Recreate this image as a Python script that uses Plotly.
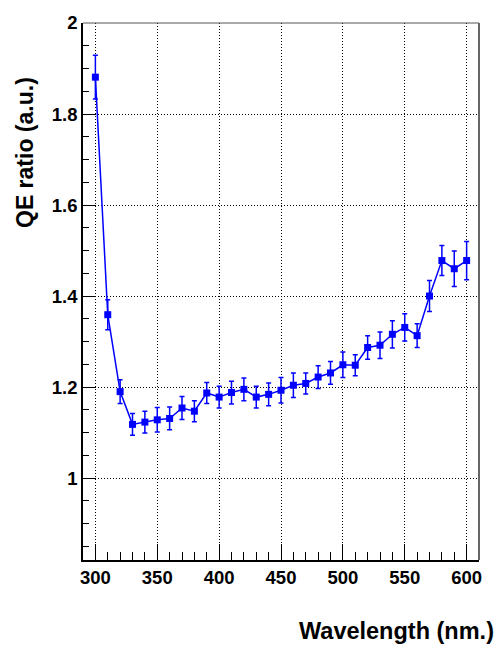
import plotly.graph_objects as go

wavelength = [300, 310, 320, 330, 340, 350, 360, 370, 380, 390, 400, 410, 420, 430, 440,
              450, 460, 470, 480, 490, 500, 510, 520, 530, 540, 550, 560, 570, 580, 590, 600]
qe_ratio = [1.881, 1.359, 1.190, 1.118, 1.123, 1.128, 1.131, 1.154, 1.147, 1.187, 1.178,
            1.188, 1.195, 1.178, 1.184, 1.193, 1.204, 1.208, 1.222, 1.231, 1.249, 1.248,
            1.287, 1.292, 1.316, 1.331, 1.313, 1.400, 1.478, 1.460, 1.478]
qe_error = [0.048, 0.033, 0.026, 0.024, 0.024, 0.027, 0.025, 0.025, 0.023, 0.023, 0.024,
            0.025, 0.025, 0.024, 0.025, 0.028, 0.027, 0.023, 0.025, 0.025, 0.028, 0.023,
            0.026, 0.029, 0.030, 0.030, 0.026, 0.034, 0.033, 0.039, 0.042]

x_title = "Wavelength (nm.)"
y_title = "QE ratio (a.u.)"

BLUE = "#0000ff"
FONT = "Liberation Sans, Arial, sans-serif"

fig = go.Figure()
fig.add_trace(go.Scatter(
    x=wavelength, y=qe_ratio, mode="lines+markers",
    line=dict(color=BLUE, width=1.5),
    marker=dict(symbol="square", size=7, color=BLUE),
    error_y=dict(type="data", array=qe_error, visible=True, color=BLUE, thickness=1.5, width=2.5),
    showlegend=False,
))

tickfont = dict(family=FONT, size=18.5, color="black", weight="bold")

fig.update_layout(
    width=499, height=648,
    margin=dict(l=83, r=20, t=15, b=88),
    paper_bgcolor="white", plot_bgcolor="white",
    xaxis=dict(
        range=[290, 610], dtick=50, tick0=300,
        ticks="inside", ticklen=16, tickwidth=1, tickcolor="black",
        minor=dict(dtick=10, ticks="inside", ticklen=8, tickcolor="black", showgrid=False),
        showgrid=True, gridcolor="black", griddash="1px,2px", gridwidth=1,
        showline=True, linecolor="black", linewidth=1.5,
        zeroline=False, tickfont=tickfont,
    ),
    yaxis=dict(
        range=[0.82, 2.0], dtick=0.2, tick0=0,
        ticks="inside", ticklen=12, tickwidth=1, tickcolor="black",
        minor=dict(dtick=0.05, ticks="inside", ticklen=6, tickcolor="black", showgrid=False),
        showgrid=True, gridcolor="black", griddash="1px,2px", gridwidth=1,
        showline=True, linecolor="black", linewidth=1.5,
        zeroline=False, tickfont=tickfont,
    ),
    annotations=[
        dict(text=x_title, xref="paper", yref="paper", x=1.042, y=-0.132,
             xanchor="right", yanchor="middle", showarrow=False,
             font=dict(family=FONT, size=23.5, color="black", weight="bold")),
        dict(text=y_title, xref="paper", yref="paper", x=-0.145, y=0.759,
             xanchor="center", yanchor="middle", textangle=-90, showarrow=False,
             font=dict(family=FONT, size=23, color="black", weight="bold")),
    ],
    shapes=[
        dict(type="line", xref="paper", yref="paper", x0=0, x1=1, y0=1, y1=1,
             line=dict(color="#555555", width=1)),
        dict(type="line", xref="paper", yref="paper", x0=1, x1=1, y0=0, y1=1,
             line=dict(color="#666666", width=2)),
    ],
)

fig.write_html("out.html", config={"displayModeBar": False},
               post_script="document.body.style.margin='0';document.body.style.padding='0';document.body.style.overflow='hidden';")
